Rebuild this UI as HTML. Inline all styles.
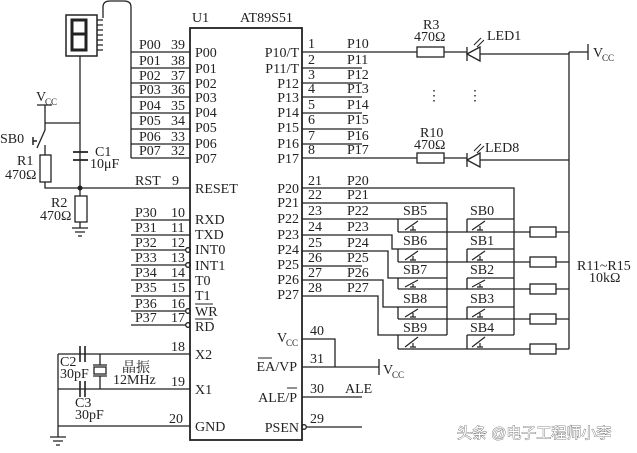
<!DOCTYPE html>
<html><head><meta charset="utf-8"><style>
html,body{margin:0;padding:0;background:#fff;}
svg{display:block;}
text{font-family:"Liberation Serif",serif;font-size:14px;fill:#222;}
.s{font-size:9px;}
</style></head><body>
<svg width="637" height="453" viewBox="0 0 637 453" xmlns="http://www.w3.org/2000/svg">
<g stroke="#222" stroke-width="1.3" fill="none">
<rect x="190" y="28" width="112" height="412" stroke-width="1.8"/>
<rect x="66" y="15" width="31" height="41" stroke-width="1.5"/>
<path d="M72 20h14v14h-14zM72 34h14v16h-14z" stroke-width="3"/>
<path d="M97 20h6M97 25h6M97 30h6M97 35h6M97 40h6M97 45h6M97 50h6"/>
<path d="M103 18V7Q103 1 110 1H124Q131 1 131 7V158"/>
<path d="M131 52H190M131 68H190M131 83H190M131 97H190M131 113H190M131 129H190M131 144H190M131 158H190"/>
<path d="M131 220H190M131 235H190M131 250H186M131 265H186M131 280H190M131 296H190M131 311H186M131 325H186"/>
<circle cx="188" cy="250" r="2.3"/><circle cx="188" cy="265" r="2.3"/><circle cx="188" cy="311" r="2.3"/><circle cx="188" cy="325" r="2.3"/>
<path d="M80 56V188"/>
<path d="M37 105H52M45 105V123H80M45 123V130L37 148M45 145V155M45 182V188H190"/>
<path d="M33 141h4M33 137v8" stroke-width="1.5"/>
<rect x="40" y="155" width="11" height="27"/>
<path d="M73 152H88M73 160H88" stroke-width="1.8"/>
<path d="M80 188V196"/>
<rect x="75" y="196" width="12" height="26"/>
<path d="M80 222V228M72 228H88M75 232H85M78 236H82"/>
<path d="M58 354H190M58 354V437M58 389H190M58 426H190M50 437H66M53 441H63M56 445H60"/>
<path d="M80 346V362M85 346V362M80 381V397M85 381V397" stroke-width="1.6"/>
<path d="M100 354V365M100 376V389M93 365H107M93 376H107"/>
<rect x="94" y="367" width="12" height="7"/>
<path d="M302 52H417M444 52H467M302 68H362M302 83H362M302 97H362M302 113H362M302 129H362M302 144H362M302 158H417M444 158H467"/>
<rect x="417" y="47" width="27" height="10"/><rect x="417" y="153" width="27" height="10"/>
<path d="M467 47V61M467 54L480 47V61Z M480 54H569M467 153V167M467 160L480 153V167Z M480 160H569" />
<path d="M474 45L481 38M477 47L484 40M474 151L481 144M477 153L484 146" stroke-width="1"/>
<path d="M569 52V349M569 52H588M588 44V60"/>
<path d="M302 188H514V335M302 203H447V335M302 219H447M302 235H392V249H447M302 251H388V278H447M302 266H362M302 280H383V307H447M302 296H378V335H447"/>
<path d="M467 219H514M467 249H514M467 278H514M467 307H514M467 335H514"/>
<path d="M398 219V232M398 249V262M398 278V289M398 307V319M398 335V349"/>
<path d="M467 219V232M467 249V262M467 278V289M467 307V319M467 335V349"/>
<path d="M398 232H530M398 262H530M398 289H530M398 319H530M398 349H530"/>
<path d="M556 232H569M556 262H569M556 289H569M556 319H569M556 349H569"/>
<rect x="530" y="227" width="26" height="10"/><rect x="530" y="257" width="26" height="10"/><rect x="530" y="284" width="26" height="10"/><rect x="530" y="314" width="26" height="10"/><rect x="530" y="344" width="26" height="10"/>
<g stroke-width="1.2">
<path d="M405 230L418 221M410 230h6M413 226v4M472 230L485 221M477 230h6M480 226v4"/>
<path d="M405 260L418 251M410 260h6M413 256v4M472 260L485 251M477 260h6M480 256v4"/>
<path d="M405 287L418 280M410 287h6M413 284v3M472 287L485 280M477 287h6M480 284v3"/>
<path d="M405 317L418 309M410 317h6M413 313v4M472 317L485 309M477 317h6M480 313v4"/>
<path d="M405 347L418 337M410 347h6M413 343v4M472 347L485 337M477 347h6M480 343v4"/>
</g>
<path d="M302 339H335V367M302 367H379M379 359V375M302 397H362M306 427H362"/>
<circle cx="304" cy="427" r="2.3"/>
</g>
<circle cx="80" cy="188" r="2.5" fill="#222"/>
<text x="192" y="22">U1</text><text x="240" y="22">AT89S51</text>
<g>
<text x="139" y="49">P00</text><text x="171" y="49">39</text><text x="195" y="57">P00</text>
<text x="139" y="65">P01</text><text x="171" y="65">38</text><text x="195" y="73">P01</text>
<text x="139" y="80">P02</text><text x="171" y="80">37</text><text x="195" y="88">P02</text>
<text x="139" y="94">P03</text><text x="171" y="94">36</text><text x="195" y="102">P03</text>
<text x="139" y="110">P04</text><text x="171" y="110">35</text><text x="195" y="117">P04</text>
<text x="139" y="125">P05</text><text x="171" y="125">34</text><text x="195" y="132">P05</text>
<text x="139" y="141">P06</text><text x="171" y="141">33</text><text x="195" y="148">P06</text>
<text x="139" y="155">P07</text><text x="171" y="155">32</text><text x="195" y="163">P07</text>
<text x="135" y="185">RST</text><text x="172" y="185">9</text><text x="195" y="193">RESET</text>
<text x="135" y="217">P30</text><text x="171" y="217">10</text><text x="195" y="224">RXD</text>
<text x="135" y="232">P31</text><text x="171" y="232">11</text><text x="195" y="239">TXD</text>
<text x="135" y="247">P32</text><text x="171" y="247">12</text><text x="195" y="254">INT0</text>
<text x="135" y="262">P33</text><text x="171" y="262">13</text><text x="195" y="270">INT1</text>
<text x="135" y="277">P34</text><text x="171" y="277">14</text><text x="195" y="285">T0</text>
<text x="135" y="292">P35</text><text x="171" y="292">15</text><text x="195" y="300">T1</text>
<text x="135" y="308">P36</text><text x="171" y="308">16</text><text x="195" y="316">WR</text>
<text x="135" y="322">P37</text><text x="171" y="322">17</text><text x="195" y="331">RD</text>
<text x="171" y="351">18</text><text x="195" y="359">X2</text>
<text x="171" y="386">19</text><text x="195" y="394">X1</text>
<text x="169" y="423">20</text><text x="195" y="431">GND</text>
</g>
<path d="M195 304H213M195 319H213" stroke="#222" stroke-width="1"/>
<g text-anchor="end">
<text x="299" y="57">P10/T</text><text x="299" y="73">P11/T</text><text x="299" y="88">P12</text><text x="299" y="102">P13</text><text x="299" y="117">P14</text><text x="299" y="132">P15</text><text x="299" y="148">P16</text><text x="299" y="163">P17</text>
<text x="299" y="193">P20</text><text x="299" y="207">P21</text><text x="299" y="223">P22</text><text x="299" y="239">P23</text><text x="299" y="254">P24</text><text x="299" y="269">P25</text><text x="299" y="284">P26</text><text x="299" y="299">P27</text>
<text x="297" y="371">EA/VP</text><text x="297" y="402">ALE/P</text><text x="299" y="432">PSEN</text>
</g>
<text x="277" y="342">V</text><text x="286" y="346" class="s">CC</text>
<path d="M258 358H272M287 388H297" stroke="#222" stroke-width="1"/>
<g>
<text x="308" y="48">1</text><text x="347" y="48">P10</text>
<text x="308" y="64">2</text><text x="347" y="64">P11</text>
<text x="308" y="79">3</text><text x="347" y="79">P12</text>
<text x="308" y="93">4</text><text x="347" y="93">P13</text>
<text x="308" y="109">5</text><text x="347" y="109">P14</text>
<text x="308" y="124">6</text><text x="347" y="124">P15</text>
<text x="308" y="140">7</text><text x="347" y="140">P16</text>
<text x="308" y="154">8</text><text x="347" y="154">P17</text>
<text x="308" y="185">21</text><text x="347" y="185">P20</text>
<text x="308" y="199">22</text><text x="347" y="199">P21</text>
<text x="308" y="215">23</text><text x="347" y="215">P22</text>
<text x="308" y="231">24</text><text x="347" y="231">P23</text>
<text x="308" y="247">25</text><text x="347" y="247">P24</text>
<text x="308" y="262">26</text><text x="347" y="262">P25</text>
<text x="308" y="277">27</text><text x="347" y="277">P26</text>
<text x="308" y="292">28</text><text x="347" y="292">P27</text>
<text x="310" y="335">40</text><text x="310" y="363">31</text><text x="310" y="393">30</text><text x="345" y="393">ALE</text><text x="310" y="423">29</text>
</g>
<text x="423" y="29">R3</text><text x="414" y="41">470Ω</text><text x="487" y="40">LED1</text>
<text x="420" y="137">R10</text><text x="414" y="149">470Ω</text><text x="485" y="152">LED8</text>
<text x="427" y="100">⋮</text><text x="468" y="100">⋮</text>
<text x="593" y="57">V</text><text x="602" y="61" class="s">CC</text>
<text x="383" y="374">V</text><text x="392" y="378" class="s">CC</text>
<text x="403" y="215">SB5</text><text x="470" y="215">SB0</text>
<text x="403" y="245">SB6</text><text x="470" y="245">SB1</text>
<text x="403" y="274">SB7</text><text x="470" y="274">SB2</text>
<text x="403" y="303">SB8</text><text x="470" y="303">SB3</text>
<text x="403" y="332">SB9</text><text x="470" y="332">SB4</text>
<text x="577" y="270">R11~R15</text><text x="589" y="282">10kΩ</text>
<text x="36" y="101">V</text><text x="45" y="105" class="s">CC</text>
<text x="0" y="143">SB0</text>
<text x="17" y="165">R1</text><text x="5" y="179">470Ω</text>
<text x="95" y="156">C1</text><text x="90" y="168">10μF</text>
<text x="51" y="207">R2</text><text x="40" y="220">470Ω</text>
<text x="60" y="366">C2</text><text x="60" y="378">30pF</text>
<text x="75" y="407">C3</text><text x="75" y="419">30pF</text>
<text x="122" y="372" style="font-family:'Liberation Serif','Noto Serif CJK SC',serif">晶振</text><text x="113" y="384">12MHz</text>
<text x="457" y="438" style="font-family:'Liberation Sans','Noto Sans CJK SC',sans-serif;font-size:15px;fill:#fff;stroke:#666;stroke-width:0.8px;paint-order:stroke">头条 @电子工程师小李</text>
</svg>
</body></html>
